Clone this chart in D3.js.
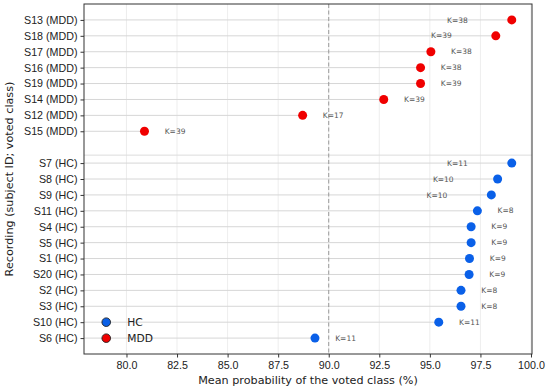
<!DOCTYPE html>
<html>
<head>
<meta charset="utf-8">
<script src="https://cdn.jsdelivr.net/npm/d3@7"></script>
<style>
  body { margin: 0; background: #fff; }
  svg { font-family: "DejaVu Sans", sans-serif; }
  .tick text { fill: #222; font-size: 10.7px; }
  .k-label { fill: #555; font-size: 7.5px; }
  .axis-title { fill: #222; font-size: 11.2px; }
  .legend-text { fill: #222; font-size: 10.7px; }
</style>
</head>
<body>
<svg id="chart"></svg>
<script>
const MARGIN = { top: 4, right: 18, bottom: 35, left: 84 }
const width = 550, height = 389

// MDD recordings, top to bottom
const mddLabels = ['S13 (MDD)', 'S18 (MDD)', 'S17 (MDD)', 'S16 (MDD)', 'S19 (MDD)', 'S14 (MDD)', 'S12 (MDD)', 'S15 (MDD)']
const mddValues = [99.05, 98.26, 95.05, 94.54, 94.54, 92.72, 88.71, 80.89]
const mddK = [38, 39, 38, 38, 39, 39, 17, 39]

// HC recordings, top to bottom
const hcLabels = ['S7 (HC)', 'S8 (HC)', 'S9 (HC)', 'S11 (HC)', 'S4 (HC)', 'S5 (HC)', 'S1 (HC)', 'S20 (HC)', 'S2 (HC)', 'S3 (HC)', 'S10 (HC)', 'S6 (HC)']
const hcValues = [99.05, 98.35, 98.04, 97.35, 97.04, 97.04, 96.96, 96.94, 96.54, 96.54, 95.44, 89.32]
const hcK = [11, 10, 10, 8, 9, 9, 9, 9, 8, 8, 11, 11]

const xTicks = [80, 82.5, 85, 87.5, 90, 92.5, 95, 97.5, 100]
const threshold = 90

const COLORS = { MDD: '#f00000', HC: '#0a60e8' }

const boundedWidth = width - MARGIN.left - MARGIN.right
const boundedHeight = height - MARGIN.top - MARGIN.bottom

// one empty slot between the two groups
const rows = []
mddLabels.forEach((d, i) => rows.push({ label: d, value: mddValues[i], k: mddK[i], cls: 'MDD', idx: i }))
hcLabels.forEach((d, i) => rows.push({ label: d, value: hcValues[i], k: hcK[i], cls: 'HC', idx: mddLabels.length + 1 + i }))
const nSlots = mddLabels.length + 1 + hcLabels.length

const xScale = d3.scaleLinear().domain([77.9, 100.05]).range([0, boundedWidth])
const yScale = d3.scaleLinear().domain([-1, nSlots]).range([0, boundedHeight])

const $svg = d3.select('#chart').attr('width', width).attr('height', height)
const $gVis = $svg.append('g').attr('transform', `translate(${MARGIN.left}, ${MARGIN.top})`)

// vertical grid
$gVis.append('g')
    .selectAll('line')
    .data(xTicks)
    .join('line')
    .attr('x1', d => xScale(d)).attr('x2', d => xScale(d))
    .attr('y1', 0).attr('y2', boundedHeight)
    .attr('stroke', '#e8e8e8').attr('stroke-width', 0.8)

// separator between groups
$gVis.append('line')
    .attr('x1', 0).attr('x2', boundedWidth)
    .attr('y1', yScale(mddLabels.length + 0.5)).attr('y2', yScale(mddLabels.length + 0.5))
    .attr('stroke', '#dcdcdc').attr('stroke-width', 1)

// stems
$gVis.append('g')
    .selectAll('line')
    .data(rows)
    .join('line')
    .attr('x1', 0).attr('x2', d => xScale(d.value))
    .attr('y1', d => yScale(d.idx)).attr('y2', d => yScale(d.idx))
    .attr('stroke', '#d6d6d6').attr('stroke-width', 1)

// threshold line
$gVis.append('line')
    .attr('x1', xScale(threshold)).attr('x2', xScale(threshold))
    .attr('y1', 0).attr('y2', boundedHeight)
    .attr('stroke', '#999').attr('stroke-width', 1)
    .attr('stroke-dasharray', '4,2.5')

// K labels
$gVis.append('g')
    .selectAll('text')
    .data(rows)
    .join('text')
    .attr('class', 'k-label')
    .attr('x', d => d.value > 97.8 ? xScale(d.value - 3.2) : xScale(d.value + 1))
    .attr('y', d => yScale(d.idx))
    .attr('dy', '0.35em')
    .text(d => `K=${d.k}`)

// dots
$gVis.append('g')
    .selectAll('circle')
    .data(rows)
    .join('circle')
    .attr('cx', d => xScale(d.value))
    .attr('cy', d => yScale(d.idx))
    .attr('r', 4.5)
    .attr('fill', d => COLORS[d.cls])

// axes
const xAxis = $gVis.append('g')
    .attr('transform', `translate(0, ${boundedHeight})`)
    .call(d3.axisBottom(xScale).tickValues(xTicks).tickFormat(d3.format('.1f')).tickSize(3.5).tickPadding(3.5))
const yAxis = $gVis.append('g')
    .call(d3.axisLeft(yScale).tickValues(rows.map(d => d.idx))
        .tickFormat(v => rows.find(r => r.idx === v).label).tickSize(3.5).tickPadding(3))
;[xAxis, yAxis].forEach(a => {
    a.select('.domain').remove()
    a.selectAll('.tick line').attr('stroke', '#333')
})

// frame
$gVis.append('rect')
    .attr('width', boundedWidth).attr('height', boundedHeight)
    .attr('fill', 'none').attr('stroke', '#333').attr('stroke-width', 1)

// legend
const legend = $gVis.append('g')
    .attr('transform', `translate(${xScale(79.0)}, ${yScale(nSlots - 2)})`)
;['HC', 'MDD'].forEach((c, i) => {
    legend.append('circle')
        .attr('cx', 0).attr('cy', i * 16)
        .attr('r', 4.3)
        .attr('fill', COLORS[c]).attr('stroke', '#222').attr('stroke-width', 0.9)
    legend.append('text')
        .attr('class', 'legend-text')
        .attr('x', 21).attr('y', i * 16).attr('dy', '0.35em')
        .text(c)
})

// titles
$svg.append('text')
    .attr('class', 'axis-title')
    .attr('x', MARGIN.left + boundedWidth / 2)
    .attr('y', height - 5)
    .attr('text-anchor', 'middle')
    .text('Mean probability of the voted class (%)')

$svg.append('text')
    .attr('class', 'axis-title')
    .attr('transform', `translate(13, ${MARGIN.top + boundedHeight / 2}) rotate(-90)`)
    .attr('text-anchor', 'middle')
    .text('Recording (subject ID; voted class)')
</script>
</body>
</html>
